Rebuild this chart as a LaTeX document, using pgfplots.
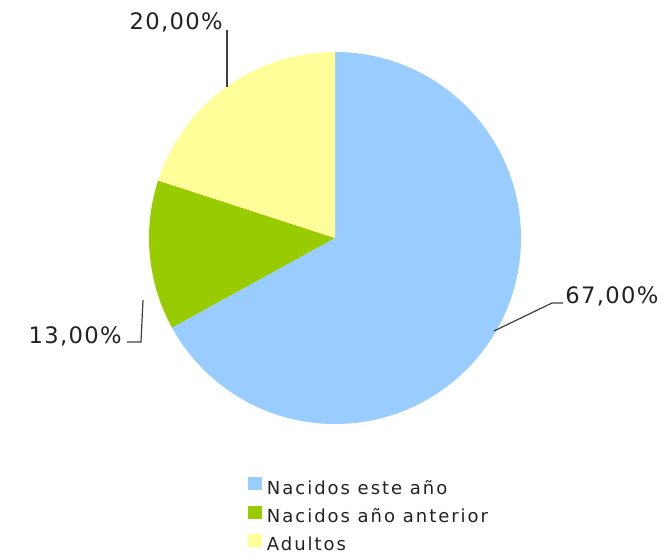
\documentclass[border=0pt]{standalone}
\usepackage{pgfplots}
\pgfplotsset{compat=1.18}
\usepackage{pgfplotstable}
\usepackage{fontspec}
\setmainfont{DejaVu Sans}
\newfontfamily\legfont[LetterSpace=11]{DejaVu Sans}
\newfontfamily\labfont[LetterSpace=6]{DejaVu Sans}

\definecolor{c0}{HTML}{99CCFF}
\definecolor{c1}{HTML}{99CC00}
\definecolor{c2}{HTML}{FFFF99}
\definecolor{txt}{HTML}{222222}
\definecolor{lead}{HTML}{404040}

% share of each group, in percent
\pgfplotstableread[col sep=comma]{
label,value
Nacidos este año,67
Nacidos año anterior,13
Adultos,20
}\piedata

% start and end angle of every slice, clockwise from the top
\def\cum{0}
\pgfplotsforeachungrouped \i in {0,1,2}{%
  \pgfplotstablegetelem{\i}{value}\of\piedata
  \pgfmathsetmacro\sa{90-3.6*\cum}%
  \pgfmathsetmacro\cum{\cum+\pgfplotsretval}%
  \pgfmathsetmacro\ea{90-3.6*\cum}%
  \expandafter\xdef\csname sa\i\endcsname{\sa}%
  \expandafter\xdef\csname ea\i\endcsname{\ea}%
}
\newcommand\sang[1]{\csname sa#1\endcsname}
\newcommand\eang[1]{\csname ea#1\endcsname}

\begin{document}
\begin{tikzpicture}
\begin{axis}[
    x=0.75pt, y=0.75pt,
    xmin=0, xmax=670, ymin=0, ymax=556,
    hide axis,
    clip=false,
    legend image code/.code={\fill[#1, draw=none] (0pt,-0.5pt) rectangle (10pt,9.25pt);},
    legend cell align=left,
    legend style={
        at={(axis cs:248,79)}, anchor=north west,
        draw=none, fill=none, inner sep=0pt,
        font=\legfont\fontsize{13.5}{16}\selectfont, text=txt,
        nodes={inner sep=0pt, text height=10pt, text depth=3pt},
        row sep=5.5pt, column sep=4pt,
    },
]
\path (axis cs:0,0) rectangle (axis cs:670,556);

\pgfplotsinvokeforeach{0,1,2}{
  \fill[c#1] (axis cs:335,318)
     -- (axis cs:{335+186*cos(\sang{#1})},{318+186*sin(\sang{#1})})
     arc[start angle=\sang{#1}, end angle=\eang{#1}, radius=186] -- cycle;
}

\addlegendimage{fill=c0}
\addlegendentry{Nacidos este año}
\addlegendimage{fill=c1}
\addlegendentry{Nacidos año anterior}
\addlegendimage{fill=c2}
\addlegendentry{Adultos}

% leader lines and value labels
\draw[lead, line width=0.9pt] (axis cs:494,225) -- (axis cs:552,253) -- (axis cs:563,253);
\node[anchor=west, text=txt, font=\labfont\fontsize{17}{20}\selectfont, inner sep=0pt] at (axis cs:565,260) {67,00\%};
\draw[lead, line width=0.9pt] (axis cs:143,256) -- (axis cs:141,214) -- (axis cs:127,214);
\node[anchor=east, text=txt, font=\labfont\fontsize{17}{20}\selectfont, inner sep=0pt] at (axis cs:122,220) {13,00\%};
\draw[lead, line width=0.9pt] (axis cs:227,469) -- (axis cs:227,526);
\node[anchor=east, text=txt, font=\labfont\fontsize{17}{20}\selectfont, inner sep=0pt] at (axis cs:223,534) {20,00\%};
\end{axis}
\end{tikzpicture}
\end{document}
